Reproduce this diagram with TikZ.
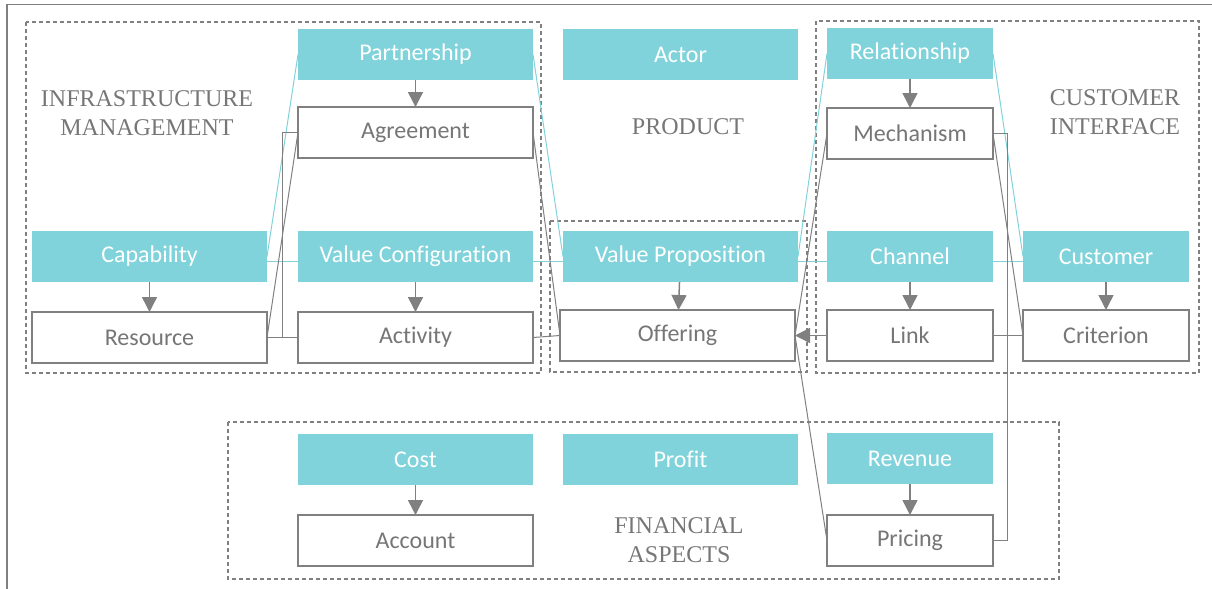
\documentclass[tikz,border=0pt]{standalone}
\usepackage{fontspec}
\setmainfont{Carlito}[Ligatures=NoCommon]
\newfontfamily\titlefont{Liberation Serif}
\definecolor{Aqua}{RGB}{128, 211, 219}
\definecolor{Steel}{RGB}{128, 128, 128}
\definecolor{Ink}{RGB}{118, 118, 118}
\usetikzlibrary{arrows.meta, positioning}

\begin{document}
\begin{tikzpicture}[x=0.5pt, y=-0.5pt, every node/.style={font=\fontsize{12}{14.5}\selectfont},
    concept/.style={rectangle, fill=Aqua, text=white, minimum height=25.5pt, inner sep=0pt, outer sep=0pt},
    element/.style={rectangle, draw=Steel, line width=0.75pt, fill=white, text=Ink, minimum height=25.5pt, inner sep=0pt, outer sep=0pt},
    wide/.style={minimum width=117.5pt},
    narrow/.style={minimum width=83pt},
    zone/.style={draw=Steel, dash pattern=on 2pt off 1.5pt, line width=0.6pt},
    zonetitle/.style={font=\titlefont\fontsize{12}{14.5}\selectfont, text=Ink, align=center},
    tie/.style={draw=Aqua, line width=0.5pt},
    wire/.style={draw=Steel, line width=0.5pt},
    feed/.style={draw=Steel, line width=0.75pt, -{Triangle[length=7.5pt, width=7.5pt]}}]
            \useasboundingbox (0,0) rectangle (1212,589);
            \draw[Steel, line width=0.75pt] (7,589) -- (7,4.5) -- (1212,4.5);

            \draw[zone] (26,22) rectangle (541,373);
            \draw[zone] (550,221) rectangle (807,372);
            \draw[zone] (816,21) rectangle (1199,373);
            \draw[zone] (228,422) rectangle (1059,579);

            \node[concept, wide] (Cap) at (149.5,256.5) {Capability};
            \node[concept, wide, right=15.5pt of Cap] (ValConf) {Value Configuration};
            \node[concept, wide, right=15pt of ValConf] (ValProp) {Value Proposition};
            \node[concept, narrow, right=14.5pt of ValProp] (Chan) {Channel};
            \node[concept, narrow, right=15pt of Chan] (Cust) {Customer};

            \node[element, wide, below=15pt of Cap] (Res) {Resource};
            \node[element, wide, below=15pt of ValConf] (Act) {Activity};
            \node[element, wide, below=14pt of ValProp, xshift=-1.5pt] (Offer) {Offering};
            \node[element, narrow, below=14pt of Chan] (Link) {Link};
            \node[element, narrow, below=14pt of Cust] (Crit) {Criterion};

            \node[element, wide, above=36.5pt of ValConf] (Agree) {Agreement};
            \node[concept, wide, above=13.5pt of Agree] (Partner) {Partnership};
            \node[concept, wide, right=15pt of Partner] (Actor) {Actor};
            \node[element, narrow, above=36pt of Chan] (Mech) {Mechanism};
            \node[concept, narrow, above=14.5pt of Mech] (Relation) {Relationship};

            \node[concept, wide, below=35.5pt of Act] (Cost) {Cost};
            \node[concept, wide, right=15pt of Cost] (Profit) {Profit};
            \node[concept, narrow, below=36pt of Link] (Rev) {Revenue};
            \node[element, wide, below=15pt of Cost] (Account) {Account};
            \node[element, narrow, below=15.5pt of Rev] (Pricing) {Pricing};

            \node[zonetitle] (InfraTitle) at (147,113.5) {INFRASTRUCTURE\\MANAGEMENT};
            \node[zonetitle] (ProdTitle) at (688,126.5) {PRODUCT};
            \node[zonetitle] (CustTitle) at (1115,112.5) {CUSTOMER\\INTERFACE};
            \node[zonetitle] (FinTitle) at (679,540.5) {FINANCIAL\\ASPECTS};

            \draw[tie] (Partner.west) -- (Cap.east);
            \draw[tie] (Partner.east) -- (ValProp.west);
            \draw[tie] (Relation.west) -- (ValProp.east);
            \draw[tie] (Relation.east) -- (Cust.west);
            \draw[tie] ([yshift=-2.5pt]Cap.east) -- ([yshift=-2.5pt]ValConf.west);
            \draw[tie] ([yshift=-2.5pt]ValConf.east) -- ([yshift=-2.5pt]ValProp.west);
            \draw[tie] ([yshift=-2.5pt]ValProp.east) -- ([yshift=-2.5pt]Chan.west);
            \draw[tie] ([yshift=-2.5pt]Chan.east) -- ([yshift=-2.5pt]Cust.west);

            \draw[wire] (Agree.west) -- ++(-8pt,0) |- (Act.west);
            \draw[wire] (Agree.west) -- (Res.east);
            \draw[wire] (Res.east) -- (Act.west);
            \draw[wire] (Agree.east) -- (Offer.west);
            \draw[wire] (Act.east) -- (Offer.west);
            \draw[wire] (Mech.west) -- (Offer.east);
            \draw[wire] (Offer.east) -- (Pricing.west);
            \draw[wire] (Mech.east) -- (Crit.west);
            \draw[wire] (Link.east) -- (Crit.west);
            \draw[wire] (Mech.east) -- ++(7pt,0) |- (Pricing.east);

            \draw[feed] (Partner) -- (Agree);
            \draw[feed] (Relation) -- (Mech);
            \draw[feed] (Cap) -- (Res);
            \draw[feed] (ValConf) -- (Act);
            \draw[feed] (ValProp) -- (Offer);
            \draw[feed] (Chan) -- (Link);
            \draw[feed] (Cust) -- (Crit);
            \draw[feed] (Cost) -- (Account);
            \draw[feed] (Rev) -- (Pricing);
            \draw[feed] (Link) -- (Offer);
        \end{tikzpicture}
\end{document}
